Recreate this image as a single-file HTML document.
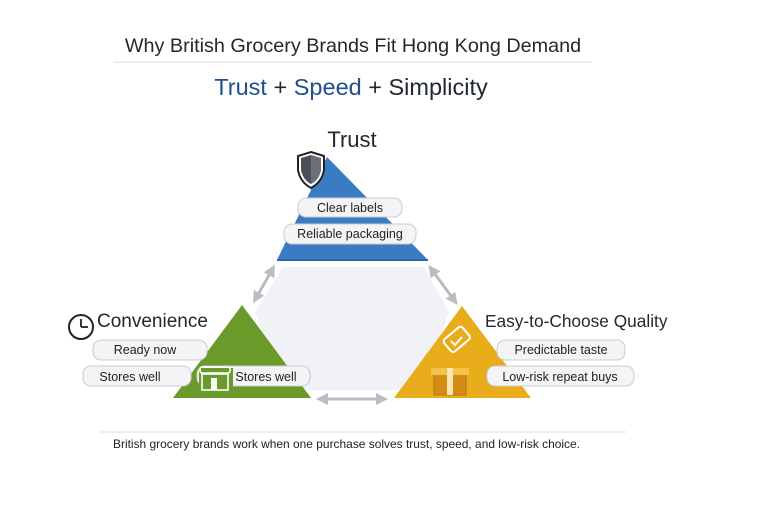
<!DOCTYPE html>
<html><head><meta charset="utf-8"><style>
html,body{margin:0;padding:0;background:#fff;}
svg{display:block}
text{font-family:"Liberation Sans",sans-serif;}
</style></head><body>
<svg width="768" height="512" viewBox="0 0 768 512" xmlns="http://www.w3.org/2000/svg">
<defs>
<marker id="ah" viewBox="0 0 10 10" refX="5" refY="5" markerWidth="4" markerHeight="4" orient="auto-start-reverse"><path d="M0,0 L10,5 L0,10 z" fill="#b9bcc3"/></marker>
</defs>
<rect width="768" height="512" fill="#fff"/>
<text x="353" y="52" text-anchor="middle" font-size="19.8" fill="#222831">Why British Grocery Brands Fit Hong Kong Demand</text>
<line x1="114" y1="62" x2="592" y2="62" stroke="#e1e3e6" stroke-width="1.2"/>
<text x="351" y="95" text-anchor="middle" font-size="23.5" fill="#222831"><tspan fill="#1f4f8f">Trust</tspan> + <tspan fill="#1f4f8f">Speed</tspan> + Simplicity</text>

<polygon points="283,267 424,267 449,312 420,390 283,390 255,312" fill="#f1f2f5"/>

<polygon points="327,157 428,260 277,260" fill="#3a7bc1"/>
<line x1="277" y1="260" x2="428" y2="260" stroke="#2b66a8" stroke-width="2"/>
<path d="M311,152 L324,156 L324,170 Q322,182 311,188 Q300,182 298,170 L298,156 Z" fill="#fff" stroke="#222" stroke-width="2"/>
<path d="M311,155 L321,158 L321,170 Q319,180 311,184 Q303,180 301,170 L301,158 Z" fill="#4a4f57"/>
<path d="M311,155 L321,158 L321,170 Q319,180 311,184 Z" fill="#6b7078"/>
<text x="352" y="147" text-anchor="middle" font-size="22" fill="#222831">Trust</text>
<rect x="298" y="198" width="104" height="19" rx="8" fill="#f4f4f6" stroke="#c9ccd2"/>
<text x="350" y="212" text-anchor="middle" font-size="12.5" fill="#222">Clear labels</text>
<rect x="284" y="224" width="132" height="20" rx="8" fill="#f4f4f6" stroke="#c9ccd2"/>
<text x="350" y="238" text-anchor="middle" font-size="12.5" fill="#222">Reliable packaging</text>

<polygon points="242,305 311,398 173,398" fill="#6a9a2a"/>
<circle cx="81" cy="327" r="12" fill="#fff" stroke="#222" stroke-width="2"/>
<line x1="81" y1="327" x2="81" y2="319" stroke="#222" stroke-width="1.8"/>
<line x1="81" y1="327" x2="88" y2="327" stroke="#222" stroke-width="1.8"/>
<text x="97" y="327" font-size="19" fill="#222831">Convenience</text>
<rect x="93" y="340" width="114" height="20" rx="8" fill="#f4f4f6" stroke="#c9ccd2"/>
<text x="145" y="354" text-anchor="middle" font-size="12.5" fill="#222">Ready now</text>
<rect x="83" y="366" width="108" height="20" rx="8" fill="#f4f4f6" stroke="#c9ccd2"/>
<text x="130" y="381" text-anchor="middle" font-size="12.5" fill="#222">Stores well</text>
<rect x="197" y="366" width="113" height="20" rx="8" fill="#f4f4f6" stroke="#c9ccd2"/>
<rect x="199" y="368" width="34" height="30" fill="#6a9a2a"/>
<rect x="200" y="367" width="30" height="6" rx="2" fill="none" stroke="#fff" stroke-width="1.6"/>
<rect x="202" y="374" width="26" height="16" fill="none" stroke="#fff" stroke-width="1.6"/>
<rect x="211" y="378" width="6" height="12" fill="#fff"/>
<text x="266" y="381" text-anchor="middle" font-size="12.5" fill="#222">Stores well</text>

<polygon points="462,306 531,398 394,398" fill="#e9ad1c"/>
<g transform="rotate(-40 456 340)"><rect x="445" y="332" width="24" height="16" rx="3" fill="none" stroke="#fff" stroke-width="2"/></g>
<path d="M451,341 l4,4 l7,-8" fill="none" stroke="#fff" stroke-width="2"/>
<rect x="434" y="373" width="32" height="22" fill="#d38c16" stroke="#b77512"/>
<rect x="431" y="368" width="38" height="7" fill="#f2c24c"/>
<rect x="447" y="368" width="6" height="27" fill="#fbe6b3"/>
<text x="485" y="327" font-size="17.3" fill="#222831">Easy-to-Choose Quality</text>
<rect x="497" y="340" width="128" height="20" rx="8" fill="#f4f4f6" stroke="#c9ccd2"/>
<text x="561" y="354" text-anchor="middle" font-size="12.5" fill="#222">Predictable taste</text>
<rect x="487" y="366" width="147" height="20" rx="8" fill="#f4f4f6" stroke="#c9ccd2"/>
<text x="560" y="381" text-anchor="middle" font-size="12.5" fill="#222">Low-risk repeat buys</text>

<line x1="256" y1="298" x2="272" y2="270" stroke="#b9bcc3" stroke-width="3" marker-start="url(#ah)" marker-end="url(#ah)"/>
<line x1="432" y1="270" x2="454" y2="300" stroke="#b9bcc3" stroke-width="3" marker-start="url(#ah)" marker-end="url(#ah)"/>
<line x1="322" y1="399" x2="382" y2="399" stroke="#b9bcc3" stroke-width="3" marker-start="url(#ah)" marker-end="url(#ah)"/>

<line x1="100" y1="432" x2="626" y2="432" stroke="#e1e3e6" stroke-width="1.2"/>
<text x="113" y="448" font-size="12" fill="#222" textLength="467" lengthAdjust="spacingAndGlyphs">British grocery brands work when one purchase solves trust, speed, and low-risk choice.</text>
</svg>
</body></html>
